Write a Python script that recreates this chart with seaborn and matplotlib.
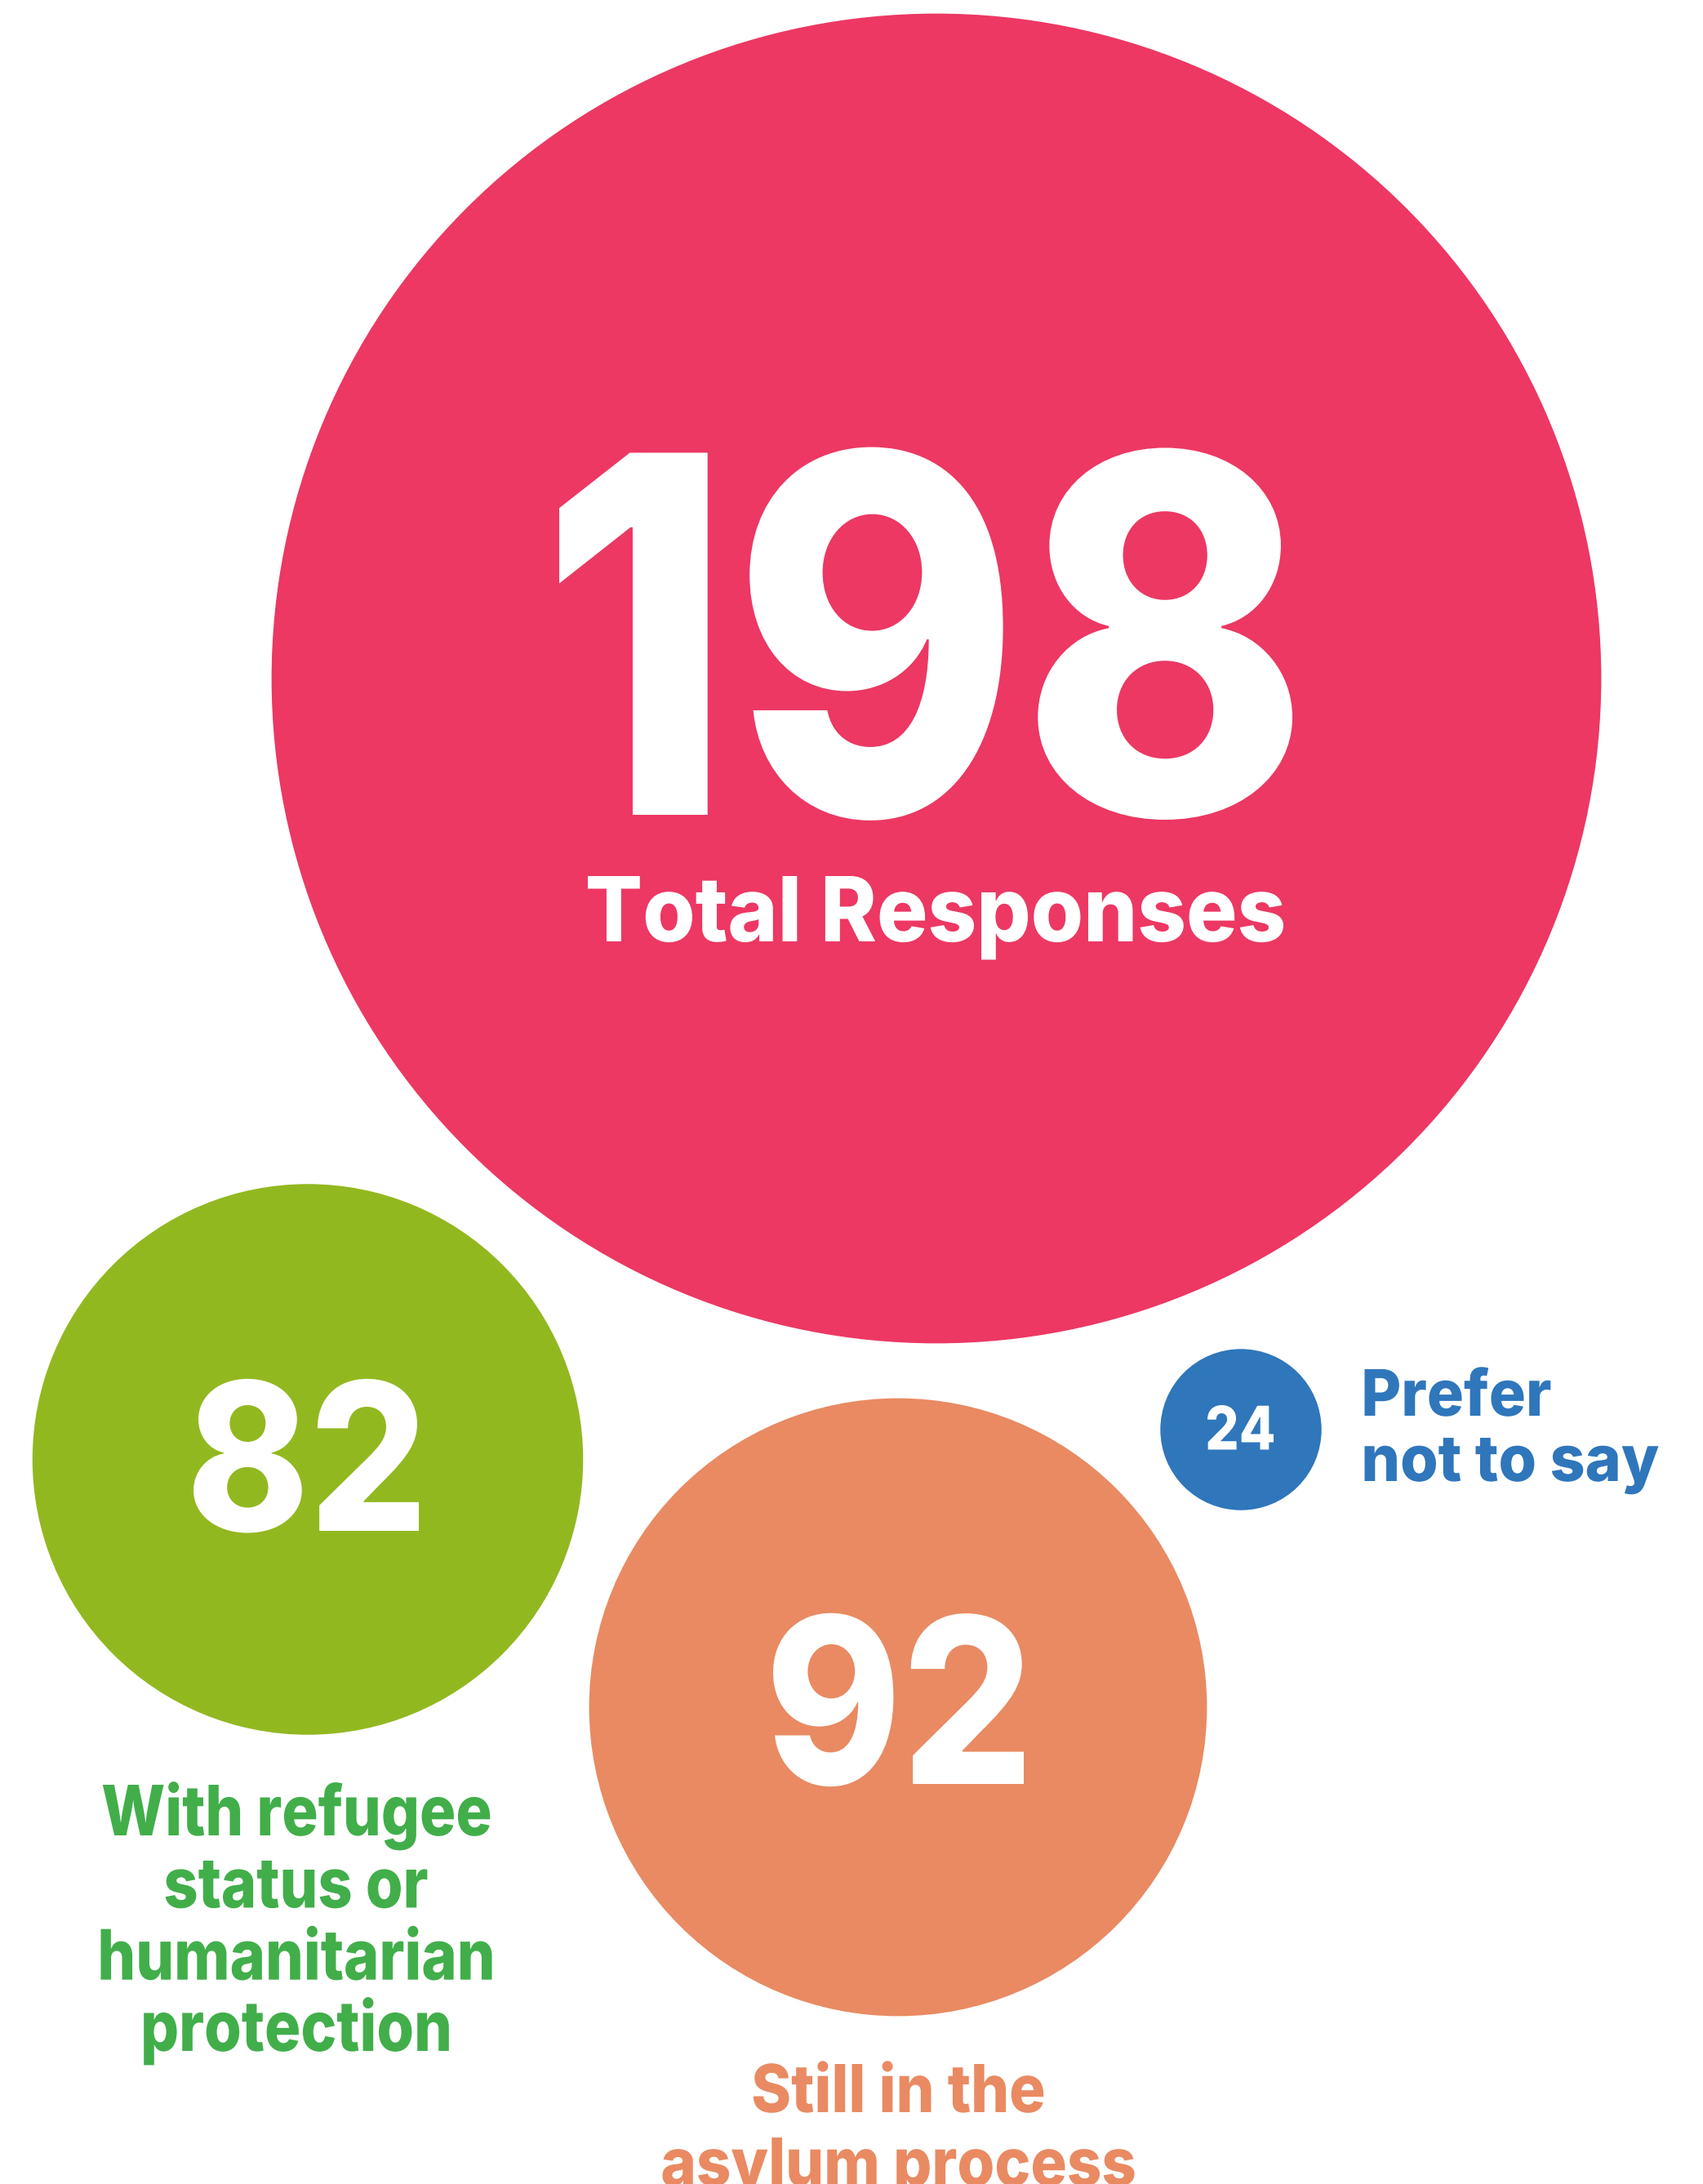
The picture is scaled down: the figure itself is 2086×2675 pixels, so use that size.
import matplotlib
matplotlib.use("Agg")
import numpy as np
import pandas as pd
import seaborn as sns
import matplotlib.pyplot as plt
from matplotlib.font_manager import FontProperties
from matplotlib.textpath import TextPath
from matplotlib.patheffects import AbstractPathEffect
from matplotlib.transforms import Affine2D

# ---------------- data ----------------
categories = ["Total", "Refugee status", "Asylum process", "Prefer not to say"]
values = [198, 82, 92, 24]
value_labels = ["198", "82", "92", "24"]
category_labels = [
    "Total Responses",
    "With refugee\nstatus or\nhumanitarian\nprotection",
    "Still in the\nasylum process",
    "Prefer\nnot to say",
]

# ---------------- layout / style ----------------
W, H, DPI = 2086, 2675, 100
centers_x = [1147, 377, 1100, 1520]
centers_y = [831, 1787.5, 2091, 1751]
RADIUS_PER_UNIT = 4.113          # px of radius per response
NUM_CAP_PER_UNIT = 2.24          # px of digit height per response
circle_colors = ["#EC3863", "#92B820", "#E98A62", "#2F76BB"]
label_colors = ["#FFFFFF", "#41AE4A", "#E98A62", "#2F76BB"]

# number placement (ink centre x, baseline offset from circle centre, ink width)
num_x = [1134, 375, 1100.5, 1519.5]
num_dy = [167, 87.5, 94, 24.5]
num_w = [898, 276, 307, 81]

# label placement: anchor x, alignment, baselines, cap height, widest-line width
lab_x = [1146, 363, 1100.5, 1671.5]
lab_ha = ["center", "center", "center", "left"]
lab_base = [[1153], [2248, 2336.5, 2424.7, 2512], [2587, 2677], [1734, 1814]]
lab_cap = [80, 62, 59, 57]
lab_w = [852, 479, 578, 360]

sns.set_style("white")
plt.rcParams["font.family"] = ["Inter", "DejaVu Sans"]
FP = FontProperties(family="Inter", weight="heavy")

CAP_RATIO = TextPath((0, 0), "H", size=100, prop=FP).get_extents().height / 100.0


def ink_width(s, em_px):
    return TextPath((0, 0), s, size=em_px, prop=FP).get_extents().width


class InkFit(AbstractPathEffect):
    """Horizontally fit rendered glyphs to the reference's letter widths."""

    def __init__(self, text, sx, align):
        super().__init__()
        self.text, self.sx, self.align = text, sx, align

    def draw_path(self, renderer, gc, tpath, affine, rgbFace=None):
        ext = tpath.get_extents(affine)
        ax0, _ = self.text.get_transform().transform(self.text.get_position())
        ref = (ext.x0 + ext.x1) / 2 if self.align == "center" else ext.x0
        t = affine + Affine2D().translate(-ref, 0).scale(self.sx, 1).translate(ax0, 0)
        renderer.draw_path(gc, tpath, t, rgbFace)


def put_text(ax, x, y, s, cap_px, target_w, color, ha, sx_lines=None):
    em_px = cap_px / CAP_RATIO
    fs = em_px * 72.0 / DPI
    ref_lines = sx_lines if sx_lines is not None else [s]
    sx = target_w / max(ink_width(l, em_px) for l in ref_lines)
    t = ax.text(x, y, s, fontproperties=FP, fontsize=fs, color=color,
                ha=ha, va="baseline")
    t.set_path_effects([InkFit(t, sx, ha)])
    return t


fig = plt.figure(figsize=(W / DPI, H / DPI), dpi=DPI)
ax = fig.add_axes([0, 0, 1, 1])

df = pd.DataFrame({
    "category": categories,
    "value": values,
    "x": centers_x,
    "y": centers_y,
})
diam_pt = 2 * df["value"] * RADIUS_PER_UNIT * 72.0 / DPI
sns.scatterplot(data=df, x="x", y="y", hue="category",
                palette=dict(zip(categories, circle_colors)),
                s=(diam_pt ** 2).to_numpy(), linewidth=0, marker="o",
                legend=False, ax=ax, zorder=1)

ax.set_xlim(0, W)
ax.set_ylim(H, 0)
ax.set_aspect("equal")
ax.axis("off")

# numbers inside circles
for i, v in enumerate(values):
    put_text(ax, num_x[i], centers_y[i] + num_dy[i], value_labels[i],
             NUM_CAP_PER_UNIT * v, num_w[i], "white", "center")

# category labels
for i, lab in enumerate(category_labels):
    lines = lab.split("\n")
    em_px = lab_cap[i] / CAP_RATIO
    widest = max(lines, key=lambda l: ink_width(l, em_px))
    for j, line in enumerate(lines):
        put_text(ax, lab_x[i], lab_base[i][j], line, lab_cap[i], lab_w[i],
                 label_colors[i], lab_ha[i], sx_lines=[widest])

fig.savefig("out.png", dpi=DPI, facecolor="white")
